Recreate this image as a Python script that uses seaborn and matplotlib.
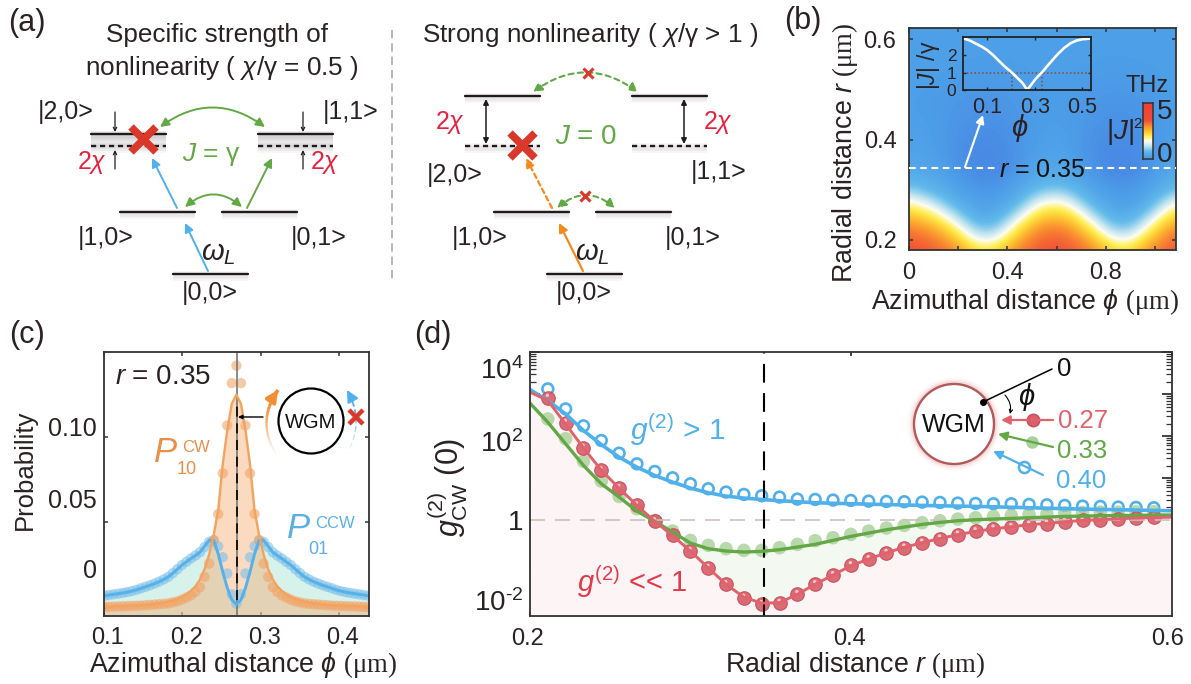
import numpy as np
import matplotlib
matplotlib.use("Agg")
import matplotlib.pyplot as plt
from matplotlib.colors import LinearSegmentedColormap
from matplotlib.patches import Circle, Rectangle
from matplotlib.ticker import FixedLocator, NullFormatter
from matplotlib.transforms import ScaledTranslation, offset_copy
import seaborn as sns

# panel b: |J|^2 map. rows are r = 0.18, 0.20 ... 0.62, columns phi = 0, 0.09 ... 1.08
j_map = [
    [3.25, 3.15, 2.72, 1.72, 1.75, 2.80, 3.22, 3.24, 2.88, 1.92, 1.70, 2.70, 3.20],
    [3.10, 2.88, 2.20, 1.22, 1.25, 2.30, 3.05, 3.08, 2.45, 1.42, 1.20, 2.18, 3.03],
    [2.80, 2.45, 1.70, 0.80, 0.82, 1.80, 2.72, 2.76, 1.92, 0.95, 0.78, 1.68, 2.70],
    [2.30, 1.92, 1.20, 0.52, 0.53, 1.30, 2.20, 2.25, 1.42, 0.61, 0.51, 1.18, 2.18],
    [1.80, 1.42, 0.78, 0.36, 0.36, 0.85, 1.70, 1.75, 0.95, 0.41, 0.35, 0.76, 1.68],
    [1.30, 0.95, 0.51, 0.26, 0.26, 0.55, 1.20, 1.25, 0.61, 0.29, 0.25, 0.50, 1.18],
    [0.85, 0.61, 0.35, 0.19, 0.19, 0.37, 0.78, 0.82, 0.41, 0.21, 0.19, 0.34, 0.76],
    [0.55, 0.45, 0.27, 0.12, 0.12, 0.28, 0.52, 0.53, 0.30, 0.14, 0.12, 0.27, 0.52],
    [0.42, 0.36, 0.20, 0.06, 0.05, 0.21, 0.40, 0.40, 0.22, 0.07, 0.05, 0.20, 0.40],
    [0.36, 0.31, 0.17, 0.06, 0.05, 0.18, 0.34, 0.34, 0.18, 0.06, 0.05, 0.17, 0.35],
    [0.33, 0.28, 0.15, 0.07, 0.07, 0.17, 0.30, 0.30, 0.16, 0.07, 0.07, 0.16, 0.32],
    [0.31, 0.27, 0.16, 0.09, 0.09, 0.18, 0.28, 0.29, 0.17, 0.09, 0.09, 0.17, 0.30],
    [0.29, 0.26, 0.17, 0.11, 0.11, 0.18, 0.26, 0.27, 0.18, 0.11, 0.11, 0.18, 0.28],
    [0.27, 0.25, 0.18, 0.14, 0.14, 0.19, 0.25, 0.25, 0.19, 0.14, 0.14, 0.19, 0.27],
    [0.26, 0.24, 0.19, 0.16, 0.16, 0.20, 0.24, 0.24, 0.20, 0.16, 0.16, 0.20, 0.26],
    [0.26, 0.24, 0.20, 0.18, 0.18, 0.21, 0.24, 0.24, 0.21, 0.18, 0.18, 0.21, 0.26],
    [0.27, 0.25, 0.22, 0.20, 0.20, 0.22, 0.25, 0.25, 0.22, 0.20, 0.20, 0.22, 0.27],
    [0.27, 0.26, 0.24, 0.22, 0.22, 0.24, 0.25, 0.25, 0.24, 0.22, 0.22, 0.24, 0.27],
    [0.27, 0.26, 0.25, 0.24, 0.24, 0.25, 0.26, 0.26, 0.25, 0.24, 0.24, 0.25, 0.27],
    [0.27, 0.27, 0.26, 0.25, 0.25, 0.26, 0.26, 0.26, 0.26, 0.25, 0.25, 0.26, 0.27],
    [0.27, 0.27, 0.27, 0.26, 0.26, 0.26, 0.27, 0.27, 0.26, 0.26, 0.26, 0.27, 0.27],
    [0.27, 0.27, 0.27, 0.27, 0.27, 0.27, 0.27, 0.27, 0.27, 0.27, 0.27, 0.27, 0.27],
    [0.27, 0.27, 0.27, 0.27, 0.27, 0.27, 0.27, 0.27, 0.27, 0.27, 0.27, 0.27, 0.27],
]
# panel b inset
phi_inset = [0, .025, .05, .075, .10, .125, .15, .175, .20, .225, .25, .2685,
             .285, .30, .315, .33, .35, .375, .40, .425, .45, .475, .50, .535]
j_inset = [2.95, 2.85, 2.67, 2.50, 2.29, 2.00, 1.66, 1.33, 1.05, 0.72, 0.38, 0,
           0.30, 0.57, 0.80, 1.00, 1.33, 1.72, 2.10, 2.42, 2.67, 2.83, 2.90, 2.95]

# panel c
phi_c = [0.1008, 0.1066, 0.1124, 0.1182, 0.1240, 0.1298, 0.1356, 0.1414, 0.1472, 0.1530,
         0.1588, 0.1646, 0.1704, 0.1762, 0.1820, 0.1878, 0.1936, 0.1994, 0.2052, 0.2110,
         0.2168, 0.2226, 0.2284, 0.2342, 0.2400, 0.2458, 0.2516, 0.2574, 0.2632, 0.2690,
         0.2748, 0.2806, 0.2864, 0.2922, 0.2980, 0.3038, 0.3096, 0.3154, 0.3212, 0.3270,
         0.3328, 0.3386, 0.3444, 0.3502, 0.3560, 0.3618, 0.3676, 0.3734, 0.3792, 0.3850,
         0.3908, 0.3966, 0.4024, 0.4082, 0.4140, 0.4198, 0.4256, 0.4314, 0.4372]
p10_dots = [.0004, .0005, .0006, .0007, .0008, .0009, .0010, .0011, .0012, .0014,
            .0016, .0018, .0020, .0022, .0025, .0031, .0037, .0047, .0059, .0072,
            .0092, .0120, .0180, .0258, .0395, .0548, .0787, .1067, .1315, .1417,
            .1315, .1067, .0787, .0548, .0395, .0258, .0180, .0120, .0092, .0072,
            .0059, .0047, .0037, .0031, .0025, .0022, .0020, .0018, .0016, .0014,
            .0012, .0011, .0010, .0009, .0008, .0007, .0006, .0005, .0004]
p10_line = [.0005, .0006, .0007, .0008, .0009, .0010, .0011, .0012, .0014, .0016,
            .0019, .0022, .0025, .0030, .0035, .0042, .0050, .0062, .0078, .0098,
            .0125, .0165, .0225, .0310, .0425, .0570, .0840, .1040, .1195, .1247,
            .1195, .1040, .0840, .0570, .0425, .0310, .0225, .0165, .0125, .0098,
            .0078, .0062, .0050, .0042, .0035, .0030, .0025, .0022, .0019, .0016,
            .0014, .0012, .0011, .0010, .0009, .0008, .0007, .0006, .0005]
p01_dots = [.0070, .0074, .0078, .0082, .0086, .0091, .0097, .0104, .0113, .0122,
            .0131, .0141, .0152, .0165, .0180, .0202, .0225, .0249, .0268, .0288,
            .0305, .0325, .0355, .0385, .0395, .0360, .0295, .0200, .0078, .0023,
            .0078, .0200, .0295, .0360, .0395, .0385, .0355, .0325, .0305, .0288,
            .0268, .0249, .0225, .0202, .0180, .0165, .0152, .0141, .0131, .0122,
            .0113, .0104, .0097, .0091, .0086, .0082, .0078, .0074, .0070]
p01_line = [.0070, .0074, .0078, .0082, .0086, .0091, .0097, .0104, .0113, .0122,
            .0131, .0141, .0152, .0165, .0180, .0202, .0225, .0249, .0268, .0288,
            .0305, .0325, .0360, .0395, .0395, .0315, .0210, .0115, .0045, .0020,
            .0045, .0115, .0210, .0315, .0395, .0395, .0360, .0325, .0305, .0288,
            .0268, .0249, .0225, .0202, .0180, .0165, .0152, .0141, .0131, .0122,
            .0113, .0104, .0097, .0091, .0086, .0082, .0078, .0074, .0070]

# panel d, values are log10 of g2
r_d = [.2111, .2222, .2333, .2444, .2555, .2666, .2777, .2888, .2999, .3110,
       .3221, .3332, .3443, .3554, .3665, .3776, .3887, .3998, .4109, .4220,
       .4331, .4442, .4553, .4664, .4775, .4886, .4997, .5108, .5219, .5330,
       .5441, .5552, .5663, .5774, .5885]
blue_dots = [3.127, 2.65, 2.246, 1.897, 1.595, 1.341, 1.159, 1.008, .865, .746,
             .667, .611, .579, .548, .50, .492, .476, .468, .452, .444,
             .437, .429, .42, .405, .397, .389, .389, .373, .365, .349,
             .333, .325, .31, .302, .294]
green_dots = [2.41, 1.94, 1.40, .93, .563, .27, -.008, -.262, -.484, -.603,
              -.683, -.722, -.722, -.659, -.579, -.492, -.421, -.341, -.262, -.19,
              -.127, -.063, -.016, .024, .056, .087, .111, .135, .159, .175,
              .183, .19, .19, .198, .198]
red_dots = [2.913, 2.317, 1.722, 1.183, .762, .349, -.032, -.365, -.738, -1.143,
            -1.532, -1.857, -2.008, -1.976, -1.77, -1.532, -1.317, -1.079, -.937, -.786,
            -.659, -.54, -.444, -.349, -.27, -.206, -.167, -.111, -.087, -.04,
            -.008, .008, .032, .048, .063]
r_line = [.2, .2111, .2222, .2333, .2444, .2555, .2666, .2777, .2888, .2999, .3110,
          .3221, .3332, .3443, .3554, .3665, .3776, .3887, .3998, .4109, .4220,
          .4331, .4442, .4553, .4664, .4775, .4886, .4997, .5108, .5219, .5330,
          .5441, .5552, .5663, .5774, .5885, .6]
blue_line = [3.11, 2.85, 2.53, 2.135, 1.80, 1.5, 1.26, 1.063, .905, .762, .651,
             .571, .524, .492, .46, .437, .413, .40, .389, .379, .37,
             .36, .349, .341, .333, .325, .317, .305, .294, .283, .27,
             .262, .254, .246, .238, .23, .222]
green_line = [2.786, 2.333, 1.817, 1.302, .865, .548, .214, -.032, -.286, -.548, -.683,
              -.738, -.762, -.746, -.706, -.643, -.579, -.484, -.389, -.31, -.23,
              -.167, -.103, -.056, -.016, .008, .024, .04, .056, .071, .087,
              .095, .103, .111, .111, .119, .12]
red_line = [3.05, 2.85, 2.29, 1.72, 1.19, .76, .35, -.03, -.37, -.74, -1.14,
            -1.53, -1.84, -1.98, -1.97, -1.77, -1.53, -1.31, -1.09, -.93, -.78,
            -.65, -.54, -.44, -.35, -.27, -.21, -.16, -.11, -.08, -.04,
            -.01, .01, .03, .05, .06, .07]

W, H = 1191, 684
INK = "#2a2222"
BLUE = "#4fb0ec"
GREEN = "#62a845"
RED = "#e0626c"
ORANGE = "#f2a35e"
CROSS = "#d9382a"
HOTRED = "#e8203c"
LABEL = 19.3

sns.set_theme(style="ticks")
plt.rcParams["font.family"] = ["Liberation Sans", "DejaVu Sans"]
plt.rcParams["mathtext.fontset"] = "custom"
plt.rcParams["mathtext.rm"] = "Liberation Sans"
plt.rcParams["mathtext.it"] = "Liberation Sans:italic"
plt.rcParams["mathtext.bf"] = "Liberation Serif"
plt.rcParams["axes.edgecolor"] = "#333333"
plt.rcParams["axes.linewidth"] = 1.3

fig = plt.figure(figsize=(W / 100, H / 100), dpi=100, facecolor="white")


def box(l, t, r, b, **kw):
    return fig.add_axes([l / W, 1 - b / H, (r - l) / W, (b - t) / H], **kw)


def shift_labels(labels, dx, dy):
    for lab, off in zip(labels, dy if hasattr(dy, "__len__") else [dy] * len(labels)):
        lab.set_transform(lab.get_transform() + ScaledTranslation(dx / 100, off / 100, fig.dpi_scale_trans))


# ---------- panel b
cmap = LinearSegmentedColormap.from_list("jj", [
    (0, "#4884e4"), (.05, "#4d9fe8"), (.13, "#62bbea"), (.2, "#bfe4f0"), (.26, "#fdfdf0"),
    (.33, "#ffee50"), (.42, "#fdc030"), (.52, "#f98c30"), (.65, "#f25038"), (1, "#f04038")])
axb = box(909, 28, 1176, 250)
axb.imshow(np.array(j_map), cmap=cmap, vmin=0, vmax=5, origin="lower", aspect="auto",
           interpolation="bicubic", extent=(-.045, 1.125, .17, .63))
axb.set_xlim(0, 1.085)
axb.set_ylim(0.18, 0.622)
axb.set_xticks([0, .2, .4, .6, .8, 1.0], ["0", "", "0.4", "", "0.8", ""])
axb.set_yticks([.2, .4, .6], ["0.2", "0.4", "0.6"])
axb.tick_params(direction="in", top=True, right=True, length=3, width=1.1, colors="#333333",
                labelsize=17, labelcolor=INK, pad=9)

axi = box(963.3, 36.7, 1090.7, 90, facecolor="none")
axi.axhline(1, color="#8a4a3a", lw=1.1, ls=(0, (1, 1.5)))
axi.vlines([.2056, .33], 0, 1, color="#8a4a3a", lw=1.1, ls=(0, (1, 1.5)))
sns.lineplot(x=phi_inset, y=j_inset, color="white", lw=1.9, ax=axi)
axi.set_xlim(0, .535)
axi.set_ylim(0, 3.05)
axi.set_xticks([.1, .3, .5], ["0.1", "0.3", "0.5"])
axi.set_yticks([0, 1, 2], ["0", "1", "2"])
axi.tick_params(direction="in", top=True, right=True, length=2.5, width=1, colors="#222222",
                labelsize=15.5, labelcolor=INK, pad=5)
axi.tick_params(axis="y", labelsize=12.5, pad=5)
for s in axi.spines.values():
    s.set_linewidth(1.3)
    s.set_color("#222222")

axcb = box(1142.7, 103.3, 1152.7, 159.3)
axcb.imshow(np.array([[1.0], [0.9], [0.8], [.65], [.52], [.42], [.33], [.26], [.2], [.13], [.05]]),
            aspect="auto", cmap=cmap, vmin=0, vmax=1, interpolation="bilinear")
axcb.set_xticks([])
axcb.set_yticks([])
for s in axcb.spines.values():
    s.set_linewidth(1.1)
    s.set_color("#333333")

# ---------- panel c
axc = box(104, 352, 369.3, 616)
axc.fill_between(phi_c, -0.01, p01_line, color="#a8e4d4", alpha=.45, lw=0)
axc.fill_between(phi_c, -0.01, p10_line, color="#f6a868", alpha=.42, lw=0)
axc.axvline(.2694, color="#777777", lw=1.2)
axc.axvline(.2694, color="black", lw=1.2, ls=(0, (6, 4)), ymin=.06, ymax=.82)
sns.scatterplot(x=phi_c, y=p01_dots, s=56, color="#7cc0ea", alpha=.6, edgecolor="none", ax=axc)
sns.scatterplot(x=phi_c, y=p10_dots, s=56, color="#f2a468", alpha=.6, edgecolor="none", ax=axc)
sns.lineplot(x=phi_c, y=p01_line, color="#58b0e8", lw=2.1, ax=axc)
sns.lineplot(x=phi_c, y=p10_line, color=ORANGE, lw=1.7, ax=axc)
axc.set_xlim(.1, .4387)
axc.set_ylim(-.0049, .1497)
axc.set_xticks([.1, .2, .3, .4], ["0.1", "0.2", "0.3", "0.4"])
axc.set_yticks([0, .05, .10], ["0", "0.05", "0.10"])
axc.tick_params(direction="in", top=True, right=True, length=3, width=1.1, colors="#333333",
                labelsize=17, labelcolor=INK, pad=8)
axc.tick_params(axis="y", labelsize=18, pad=5)
shift_labels(axc.get_xticklabels(), 4, 0)
shift_labels(axc.get_yticklabels(), 0, [39, 24, 10])

# ---------- panel d
axd = box(530, 352.3, 1172.3, 615.7)
r_line_a = np.array(r_line)
blue_g = np.power(10.0, blue_line)
green_g = np.power(10.0, green_line)
red_g = np.power(10.0, red_line)
axd.fill_between(r_line_a, 1e-3, red_g, color="#fdf4f5", lw=0)
axd.fill_between(r_line_a, red_g, green_g, where=green_g >= red_g, interpolate=True, color="#f3f9f0", lw=0)
axd.axhline(1, color="#c8c2bc", lw=1.2, ls=(0, (9, 6)))
axd.axvline(.346, color="black", lw=1.5, ls=(0, (9, 5)))
sns.scatterplot(x=r_d, y=np.power(10.0, blue_dots), s=60, facecolor="none", edgecolor=BLUE, linewidth=1.9, ax=axd)
sns.scatterplot(x=r_d, y=np.power(10.0, green_dots), s=95, color="#a8d098", alpha=.8, edgecolor="none", ax=axd)
sns.lineplot(x=r_line, y=blue_g, color=BLUE, lw=2.6, ax=axd)
sns.lineplot(x=r_line, y=green_g, color=GREEN, lw=2.4, ax=axd)
sns.lineplot(x=r_line, y=red_g, color=RED, lw=2.1, ax=axd)
sns.scatterplot(x=r_d, y=np.power(10.0, red_dots), s=95, color="#d95f6a", alpha=.92, edgecolor="#c54c5a", linewidth=.8, ax=axd)
shine = offset_copy(axd.transData, fig=fig, x=-.3, y=1.9, units="points")
sns.scatterplot(x=r_d, y=np.power(10.0, red_dots), s=6, color="white", alpha=.65, edgecolor="none", transform=shine, ax=axd)
axd.set_yscale("log")
axd.set_xlim(.2, .6)
axd.set_ylim(10 ** -2.28, 1e4)
axd.set_xticks([.2, .4, .6], ["0.2", "0.4", "0.6"])
axd.yaxis.set_major_locator(FixedLocator([1e-2, 1e-1, 1, 1e1, 1e2, 1e3, 1e4]))
axd.set_yticklabels([r"$\mathregular{10^{\text{-}2}}$", "", "1", "", r"$\mathregular{10^{2}}$", "", r"$\mathregular{10^{4}}$"])
axd.yaxis.set_minor_locator(matplotlib.ticker.LogLocator(base=10, subs=range(2, 10), numticks=20))
axd.yaxis.set_minor_formatter(NullFormatter())
axd.tick_params(axis="both", which="major", direction="in", top=True, right=True, length=7, width=1.3,
                colors="#333333", labelcolor=INK, pad=5)
axd.tick_params(axis="both", which="minor", direction="in", right=True, length=4, width=.9, colors="#333333")
axd.tick_params(axis="x", labelsize=17, length=3, pad=9)
axd.tick_params(axis="y", labelsize=20)
labs = axd.get_yticklabels()
shift_labels([labs[6]], 0, [-16])
shift_labels([labs[0], labs[4]], 0, [4, -5])
shift_labels(axd.get_xticklabels(), -2, 0)
axd.get_xticklabels()[2].set_transform(axd.get_xticklabels()[2].get_transform() + ScaledTranslation(-.03, 0, fig.dpi_scale_trans))

# ---------- overlay in pixel coordinates: schematics and annotations
ov = fig.add_axes([0, 0, 1, 1], facecolor="none", zorder=20)
ov.set_xlim(0, W)
ov.set_ylim(H, 0)
ov.axis("off")


def txt(x, y, s, size=18, color=INK, **kw):
    kw.setdefault("ha", "center")
    kw.setdefault("va", "center")
    return ov.text(x, y, s, fontsize=size, color=color, **kw)


def arrow(p0, p1, color, lw=1.4, rad=0.0, style="-|>", ls="-", scale=13):
    ov.annotate("", xy=p1, xytext=p0, arrowprops=dict(
        arrowstyle=style, color=color, lw=lw, ls=ls, mutation_scale=scale, shrinkA=0, shrinkB=0,
        connectionstyle="arc3,rad=%g" % rad))


def level(x0, x1, y, dashed=False):
    for w, a in [(7, .05), (4, .08)]:
        ov.plot([x0, x1], [y + 2, y + 2], color="#555555", lw=w, alpha=a, solid_capstyle="butt")
    ov.plot([x0, x1], [y, y], color="#221a1a", lw=1.7, ls=(0, (2.2, 1.6)) if dashed else "-")


def band(x0, x1, y0, y1):
    ov.add_patch(Rectangle((x0, y0 - 3), x1 - x0, y1 - y0 + 6, color="#888888", alpha=.08, lw=0))
    ov.add_patch(Rectangle((x0, y0), x1 - x0, y1 - y0, color="#888888", alpha=.12, lw=0))


def cross(x, y, size, mew):
    ov.plot([x], [y], marker="x", ms=size, mew=mew, color=CROSS, zorder=6)


def soft_arc(p0, c, p1, color, lw, ls="-"):
    t = np.linspace(0, 1, 25)
    xs = (1 - t) ** 2 * p0[0] + 2 * t * (1 - t) * c[0] + t ** 2 * p1[0]
    ys = (1 - t) ** 2 * p0[1] + 2 * t * (1 - t) * c[1] + t ** 2 * p1[1]
    for i in range(len(t) - 1):
        if ls == "-" or i % 3 != 2:
            ov.plot(xs[i:i + 2], ys[i:i + 2], color=color, lw=lw * (.4 + .6 * t[i]), alpha=min(1, t[i] * 1.4),
                    solid_capstyle="butt")
    arrow((xs[-2], ys[-2]), (xs[-1], ys[-1]), color, lw=lw, scale=17)


txt(27, 23, "(a)", 22)
txt(803, 21, "(b)", 22)
txt(27, 335, "(c)", 22)
txt(433, 335, "(d)", 22)

# (a) left scheme
txt(217, 35, "Specific strength of", 18.8)
txt(222, 68, r"nonlinearity ( $\chi$/γ = 0.5 )", 18.8)
band(91, 166, 134, 146)
band(258, 333, 134, 146)
for x0, x1, y, d in [(91, 166, 134.3, False), (91, 166, 146, True), (258.3, 333.3, 134.3, False), (258.3, 333.3, 146, True),
                     (120.3, 195, 211.7, False), (222.3, 297, 211.7, False), (173, 247.7, 273.7, False)]:
    level(x0, x1, y, d)
for x, y, s in [(66, 112, "|2,0>"), (351, 112, "|1,1>"), (106, 238, "|1,0>"), (319, 238, "|0,1>"), (210, 293, "|0,0>")]:
    txt(x, y, s)
arrow((208, 271), (185, 223), BLUE)
arrow((177, 208), (152, 158), BLUE)
arrow((247, 208), (272, 158), GREEN)
arrow((160, 127), (265, 127), GREEN, rad=-.36, style="<|-|>")
arrow((185, 207), (242, 207), GREEN, rad=-.42, style="<|-|>")
for x in (115, 303):
    arrow((x, 112), (x, 132), "#221a1a", lw=.9, style="->", scale=6)
    arrow((x, 169), (x, 150), "#221a1a", lw=.9, style="->", scale=6)
cross(143, 139, 18, 5.5)
txt(92, 163, r"2$\chi$", 18, HOTRED)
txt(325, 163, r"2$\chi$", 18, HOTRED)
txt(211, 155, r"$J$ = γ", 19, GREEN)
txt(218, 253, r"$\omega_L$", 21)
ov.plot([392, 392], [30, 280], color="#aaaaaa", lw=1.2, ls=(0, (5, 3)))

# (a) right scheme
txt(590, 35, r"Strong nonlinearity ( $\chi$/γ > 1 )", 18.8)
for x0, x1, y, d in [(465, 540, 95.7, False), (632, 707, 95.7, False), (465, 540, 146, True), (632, 707, 146, True),
                     (494, 569, 211.7, False), (596, 671, 211.7, False), (546.7, 621.7, 273.7, False)]:
    level(x0, x1, y, d)
for x, y, s in [(455, 175, "|2,0>"), (719, 172, "|1,1>"), (480, 238, "|1,0>"), (693, 238, "|0,1>"), (584, 293, "|0,0>")]:
    txt(x, y, s)
arrow((486, 99), (486, 144), "#221a1a", lw=1.1, style="<|-|>", scale=8)
arrow((684, 99), (684, 144), "#221a1a", lw=1.1, style="<|-|>", scale=8)
arrow((533, 92), (638, 92), GREEN, lw=1.5, rad=-.36, style="<|-|>", ls=(0, (2.5, 2)))
arrow((557, 208), (615, 208), GREEN, lw=1.5, rad=-.42, style="<|-|>", ls=(0, (2.5, 2)))
arrow((552, 208), (526, 158), "#f28a1e", lw=1.6, ls=(0, (2.2, 1.6)))
arrow((583, 271), (559, 223), "#f28a1e", lw=1.6)
cross(522, 145, 18, 5.5)
cross(588, 73, 7, 2.2)
cross(585, 196, 7, 2.2)
txt(450, 122, r"2$\chi$", 18, HOTRED)
txt(718, 122, r"2$\chi$", 18, HOTRED)
txt(586, 137, r"$J$ = 0", 20, GREEN)
txt(592, 253, r"$\omega_L$", 21)

# (b) labels
txt(1025, 302, r"Azimuthal distance $\phi$ $\mathbf{(\mu m)}$", LABEL)
txt(845, 153, r"Radial distance $r$ $\mathbf{(\mu m)}$", LABEL, rotation=90)
ov.plot([909, 998], [168, 168], color="white", lw=1.5, ls=(0, (3.2, 2.2)))
ov.plot([1085, 1176], [168, 168], color="white", lw=1.5, ls=(0, (3.2, 2.2)))
txt(1041.7, 170, r"$r$ = 0.35", 18, "#111111", zorder=3)
arrow((965, 167), (983, 115), "white", lw=1.5, scale=12)
txt(929, 65, r"$|J|$ /γ", 16.5, rotation=90)
txt(1020, 128, r"$\phi$", 21)
txt(1147, 86, "THz", 17)
txt(1120, 132, r"$|J|$", 20)
txt(1138, 124, "2", 11)
txt(1165, 112, "5", 20)
txt(1165, 155, "0", 20)

# (c) labels
txt(25, 470, "Probability", 18.5, rotation=90)
txt(243, 665, r"Azimuthal distance $\phi$ $\mathbf{(\mu m)}$", LABEL)
txt(163, 377, r"$r$ = 0.35", 20)
txt(165, 452, r"$P$", 25, "#e8904a")
txt(196, 447, "CW", 12, "#e8904a")
txt(187, 469, "10", 13, "#e8904a")
txt(298, 529, r"$P$", 25, "#5ab0e6")
txt(335, 524, "CCW", 12, "#5ab0e6")
txt(318, 549, "01", 13, "#5ab0e6")
ov.add_patch(Circle((311, 421), 32.5, fc="white", ec="black", lw=1.6))
txt(311, 422, "WGM", 14.5, "#111111")
arrow((263, 417), (238, 417), "black", lw=1, style="-|>", scale=6)
soft_arc((278, 457), (255, 423), (278, 390), "#f28f35", 2.6)
soft_arc((345, 457), (366, 423), (347, 390), "#4fb0ec", 1.6, ls="--")
cross(356, 417, 10, 3.2)

# (d) labels
txt(855, 665, r"Radial distance $r$ $\mathbf{(\mu m)}$", LABEL)
txt(448, 487, r"$g_{\mathregular{CW}}^{\mathregular{(2)}}\ \mathregular{(0)}$", 22, rotation=90)
txt(678, 430, r"$g^{\mathregular{(2)}}$ > 1", 21.5, BLUE)
txt(632, 582, r"$g^{\mathregular{(2)}}$ << 1", 21, "#e23a4a")
for lw, a in [(9, .05), (6, .08), (4, .12)]:
    ov.add_patch(Circle((954, 424), 40, fc="none", ec="#e06060", lw=lw, alpha=a))
ov.add_patch(Circle((954, 424), 40, fc="white", ec="#b05a5a", lw=1.7))
txt(954, 425, "WGM", 18, "#111111")
ov.plot([983, 1052], [402, 369], color="black", lw=1.1, marker="", zorder=5)
ov.plot([983], [402], color="black", marker="o", ms=4, zorder=5)
txt(1064, 369, "0", 18.5, "#111111")
txt(1027, 397, r"$\phi$", 21, "#111111")
arrow((1005, 395), (1010, 414), "black", lw=.8, style="->", rad=-.25, scale=6)
arrow((1053, 420), (1001, 420), RED, lw=1.6)
ov.plot([1033], [420], marker="o", ms=9, color="#d95f6a", mec="#c54c5a")
txt(1083, 421, "0.27", 18.5, RED)
ov.plot([1032], [442], marker="o", ms=9, color="#a8d098", mec="none")
arrow((1053, 447), (998, 434), GREEN, lw=1.6)
txt(1082, 451, "0.33", 18.5, GREEN)
arrow((1043, 475), (993, 451), BLUE, lw=1.6)
ov.plot([1024], [467], marker="o", ms=8, mfc="none", mec=BLUE, mew=1.8)
txt(1081, 481, "0.40", 18.5, BLUE)

fig.savefig("out.png", dpi=100)
